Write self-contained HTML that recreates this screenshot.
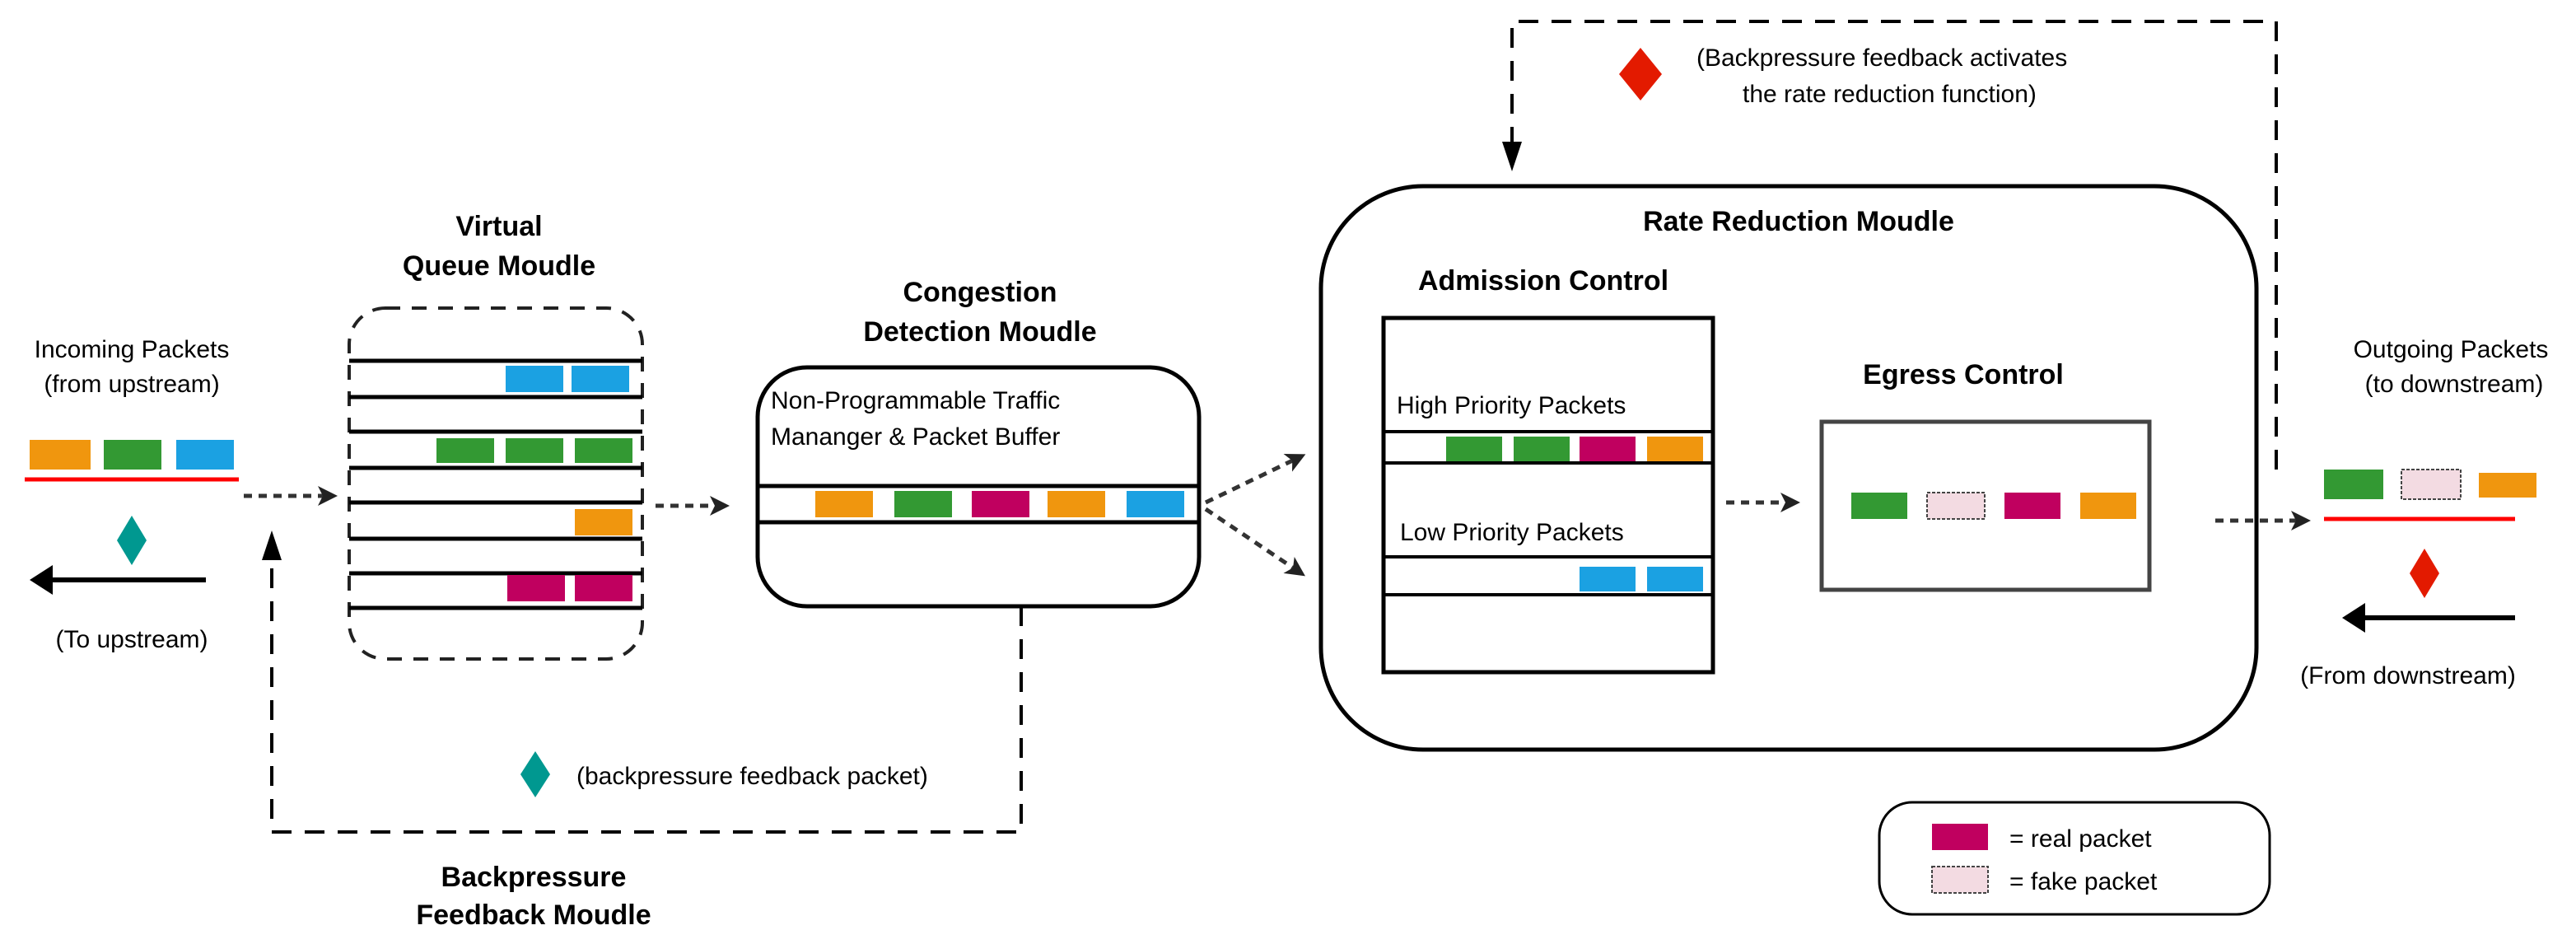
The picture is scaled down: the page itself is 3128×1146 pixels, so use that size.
<!DOCTYPE html>
<html><head><meta charset="utf-8"><style>
html,body{margin:0;padding:0;background:#fff}
svg{display:block}
text{font-family:"Liberation Sans",sans-serif;fill:#000}
.r{font-size:15px}
.b{font-size:17px;font-weight:bold}
</style></head><body>
<svg width="3128" height="1146" viewBox="0 0 1564 573" xmlns="http://www.w3.org/2000/svg">
<defs>
<marker id="ah" markerWidth="12" markerHeight="12" refX="9" refY="6" orient="auto" markerUnits="userSpaceOnUse"><path d="M0,0 L12,6 L0,12 L3,6 Z" fill="#222"/></marker>
</defs>
<g fill="none" stroke="#000">
<!-- incoming -->
<line x1="15" y1="291" x2="145" y2="291" stroke="#f00" stroke-width="2.5"/>
<line x1="125" y1="352" x2="30" y2="352" stroke-width="3"/>
<path d="M18,352 L32,343 L32,361 Z" fill="#000" stroke="none"/>
<line x1="148" y1="301" x2="202" y2="301" stroke="#333" stroke-width="2.5" stroke-dasharray="5,4" marker-end="url(#ah)"/>
<!-- VQ box -->
<rect x="212" y="187" width="178" height="213" rx="22" stroke="#222" stroke-width="2" stroke-dasharray="9,7"/>
<g stroke-width="2.5">
<line x1="212" y1="219" x2="390" y2="219"/><line x1="212" y1="241" x2="390" y2="241"/>
<line x1="212" y1="262" x2="390" y2="262"/><line x1="212" y1="284" x2="390" y2="284"/>
<line x1="212" y1="305" x2="390" y2="305"/><line x1="212" y1="327" x2="390" y2="327"/>
<line x1="212" y1="348" x2="390" y2="348"/><line x1="212" y1="369" x2="390" y2="369"/>
</g>
<line x1="398" y1="307" x2="440" y2="307" stroke="#333" stroke-width="2.5" stroke-dasharray="5,4" marker-end="url(#ah)"/>
<!-- congestion -->
<rect x="460" y="223" width="268" height="145" rx="30" stroke-width="2.5"/>
<line x1="460" y1="295" x2="728" y2="295" stroke-width="2.5"/>
<line x1="460" y1="317" x2="728" y2="317" stroke-width="2.5"/>
<line x1="732" y1="305" x2="790" y2="277" stroke="#333" stroke-width="2.5" stroke-dasharray="5,4" marker-end="url(#ah)"/>
<line x1="732" y1="309" x2="790" y2="348" stroke="#333" stroke-width="2.5" stroke-dasharray="5,4" marker-end="url(#ah)"/>
<!-- backpressure loop -->
<polyline points="620,368 620,505 165,505 165,335" stroke-width="2" stroke-dasharray="12,8"/>
<path d="M159,340 L165,322 L171,340 Z" fill="#000" stroke="none"/>
<!-- rate reduction -->
<rect x="802" y="113" width="568" height="342" rx="62" stroke-width="2.5"/>
<rect x="840" y="193" width="200" height="215" stroke-width="2.5"/>
<line x1="840" y1="262" x2="1040" y2="262" stroke-width="2"/>
<line x1="840" y1="281" x2="1040" y2="281" stroke-width="2"/>
<line x1="840" y1="338" x2="1040" y2="338" stroke-width="2"/>
<line x1="840" y1="361" x2="1040" y2="361" stroke-width="2"/>
<line x1="1048" y1="305" x2="1090" y2="305" stroke="#333" stroke-width="2.5" stroke-dasharray="5,4" marker-end="url(#ah)"/>
<rect x="1106" y="256" width="199" height="102" stroke="#444" stroke-width="2.5"/>
<!-- top loop -->
<polyline points="1382,285 1382,13 918,13 918,88" stroke-width="2" stroke-dasharray="12,8"/>
<path d="M912,86 L918,104 L924,86 Z" fill="#000" stroke="none"/>
<line x1="1345" y1="316" x2="1400" y2="316" stroke="#333" stroke-width="2.5" stroke-dasharray="5,4" marker-end="url(#ah)"/>
<line x1="1411" y1="315" x2="1527" y2="315" stroke="#f00" stroke-width="2.5"/>
<line x1="1527" y1="375" x2="1435" y2="375" stroke-width="3"/>
<path d="M1422,375 L1436,366 L1436,384 Z" fill="#000" stroke="none"/>
<rect x="1141" y="487" width="237" height="68" rx="20" stroke-width="1.5"/>
</g>
<!-- squares -->
<g stroke="none">
<rect x="18" y="267" width="37" height="18" fill="#f0960e"/><rect x="63" y="267" width="35" height="18" fill="#339933"/><rect x="107" y="267" width="35" height="18" fill="#1ba1e2"/>
<rect x="307" y="222" width="35" height="16" fill="#1ba1e2"/><rect x="347" y="222" width="35" height="16" fill="#1ba1e2"/>
<rect x="265" y="266" width="35" height="15" fill="#339933"/><rect x="307" y="266" width="35" height="15" fill="#339933"/><rect x="349" y="266" width="35" height="15" fill="#339933"/>
<rect x="349" y="309" width="35" height="16" fill="#f0960e"/>
<rect x="308" y="349" width="35" height="16" fill="#c0005f"/><rect x="349" y="349" width="35" height="16" fill="#c0005f"/>
<rect x="495" y="298" width="35" height="16" fill="#f0960e"/><rect x="543" y="298" width="35" height="16" fill="#339933"/><rect x="590" y="298" width="35" height="16" fill="#c0005f"/><rect x="636" y="298" width="35" height="16" fill="#f0960e"/><rect x="684" y="298" width="35" height="16" fill="#1ba1e2"/>
<rect x="878" y="265" width="34" height="15" fill="#339933"/><rect x="919" y="265" width="34" height="15" fill="#339933"/><rect x="959" y="265" width="34" height="15" fill="#c0005f"/><rect x="1000" y="265" width="34" height="15" fill="#f0960e"/>
<rect x="959" y="344" width="34" height="15" fill="#1ba1e2"/><rect x="1000" y="344" width="34" height="15" fill="#1ba1e2"/>
<rect x="1124" y="299" width="34" height="16" fill="#339933"/><rect x="1217" y="299" width="34" height="16" fill="#c0005f"/><rect x="1263" y="299" width="34" height="16" fill="#f0960e"/>
<rect x="1411" y="285" width="36" height="18" fill="#339933"/><rect x="1505" y="287" width="35" height="15" fill="#f0960e"/>
<rect x="1173" y="500" width="34" height="16" fill="#c0005f"/>
<path d="M80,313 L89,328 L80,343 L71,328 Z" fill="#009890"/>
<path d="M325,456 L334,470 L325,484 L316,470 Z" fill="#009890"/>
<path d="M996,29 L1009,45 L996,61 L983,45 Z" fill="#e31a00"/>
<path d="M1472,333 L1481,348 L1472,363 L1463,348 Z" fill="#e31a00"/>
</g>
<g fill="#f3dbe2" stroke="#444" stroke-width="1" stroke-dasharray="2,1">
<rect x="1170" y="299" width="35" height="16"/><rect x="1458" y="285" width="36" height="18"/><rect x="1173" y="526" width="34" height="16"/>
</g>
<!-- text -->
<g class="r" text-anchor="middle">
<text x="80" y="217">Incoming Packets</text><text x="80" y="238">(from upstream)</text>
<text x="80" y="393">(To upstream)</text>
<text x="1488" y="217">Outgoing Packets</text><text x="1490" y="238">(to downstream)</text>
<text x="1462" y="415">(From downstream)</text>
</g>
<g class="r">
<text x="468" y="248">Non-Programmable Traffic</text><text x="468" y="270">Mananger &amp; Packet Buffer</text>
<text x="848" y="251">High Priority Packets</text><text x="850" y="328">Low Priority Packets</text>
<text x="350" y="476">(backpressure feedback packet)</text>
<text x="1030" y="40">(Backpressure feedback activates</text><text x="1058" y="62">the rate reduction function)</text>
<text x="1220" y="514">= real packet</text><text x="1220" y="540">= fake packet</text>
</g>
<g class="b" text-anchor="middle">
<text x="303" y="143">Virtual</text><text x="303" y="167">Queue Moudle</text>
<text x="595" y="183">Congestion</text><text x="595" y="207">Detection Moudle</text>
<text x="324" y="538">Backpressure</text><text x="324" y="561">Feedback Moudle</text>
<text x="1092" y="140">Rate Reduction Moudle</text>
<text x="937" y="176">Admission Control</text>
<text x="1192" y="233">Egress Control</text>
</g>
</svg>
</body></html>
